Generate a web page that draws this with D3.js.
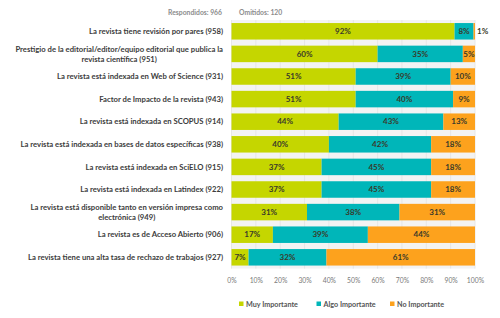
<!DOCTYPE html>
<html>
<head>
<meta charset="utf-8">
<script src="https://cdn.jsdelivr.net/npm/d3@7"></script>
<style>
  body { margin: 0; background: #fff; }
  svg { font-family: Lato, "Open Sans", sans-serif; }
</style>
</head>
<body>
<svg id="chart" width="500" height="318"></svg>
<script>
const categories = [
    "La revista tiene revisión por pares (958)",
    "Prestigio de la editorial/editor/equipo editorial que publica la|revista científica (951)",
    "La revista está indexada en Web of Science (931)",
    "Factor de Impacto de la revista (943)",
    "La revista está indexada en SCOPUS (914)",
    "La revista está indexada en bases de datos específicas (938)",
    "La revista está indexada en SciELO (915)",
    "La revista está indexada en Latindex (922)",
    "La revista está disponible tanto en versión impresa como|electrónica (949)",
    "La revista es de Acceso Abierto (906)",
    "La revista tiene una alta tasa de rechazo de trabajos (927)"
];
const muyImportante = [91.6, 60, 51, 51, 44, 40, 37, 37, 31, 17, 7];
const algoImportante = [7.8, 35, 39, 40, 43, 42, 45, 45, 38, 39, 32];
const noImportante = [0.6, 5, 10, 9, 13, 18, 18, 18, 31, 44, 61];
const seriesNames = ["Muy Importante", "Algo Importante", "No Importante"];
const seriesColors = ["#c5d600", "#00b6b9", "#fda21d"];
const xTicks = [0, 10, 20, 30, 40, 50, 60, 70, 80, 90, 100];
const respondidos = 966;
const omitidos = 120;

const svg = d3.select("#chart");
const margin = {top: 20, right: 25, bottom: 50, left: 231.5};
const width = 500, height = 318;

const rows = categories.map((c, i) => ({
    label: c,
    values: [muyImportante[i], algoImportante[i], noImportante[i]]
}));

const x = d3.scaleLinear()
    .domain([0, 100])
    .range([margin.left, width - margin.right]);

const y = d3.scaleBand()
    .domain(d3.range(categories.length))
    .range([margin.top, margin.top + 22.6 * categories.length])
    .paddingInner(0.27)
    .paddingOuter(0.135);

// plot background and gridlines
svg.append("rect")
    .attr("x", x(0))
    .attr("y", y.range()[0])
    .attr("width", x(100) - x(0))
    .attr("height", y.range()[1] - y.range()[0])
    .attr("fill", "#f3f3f3");

svg.append("g")
    .selectAll("line")
    .data(xTicks)
    .join("line")
    .attr("x1", d => x(d))
    .attr("x2", d => x(d))
    .attr("y1", y.range()[0])
    .attr("y2", y.range()[1])
    .attr("stroke", "#e2e2e2")
    .attr("stroke-width", 0.8);

// header
svg.append("text")
    .attr("x", 222)
    .attr("y", 15)
    .attr("text-anchor", "end")
    .attr("font-size", 6.8)
    .attr("font-weight", "bold")
    .attr("fill", "#8c8c8c")
    .text(`Respondidos: ${respondidos}`);

svg.append("text")
    .attr("x", 239)
    .attr("y", 15)
    .attr("font-size", 6.8)
    .attr("font-weight", "bold")
    .attr("fill", "#8c8c8c")
    .text(`Omitidos: ${omitidos}`);

// stacked bars
const fmt = d3.format(".0f");
const rowG = svg.append("g")
    .selectAll("g")
    .data(rows)
    .join("g")
    .attr("transform", (d, i) => `translate(0,${y(i)})`);

rowG.each(function(d) {
    const g = d3.select(this);
    let acc = 0;
    d.values.forEach((v, k) => {
        const x0 = acc;
        acc += v;
        g.append("rect")
            .attr("x", x(x0))
            .attr("y", 0)
            .attr("width", x(acc) - x(x0))
            .attr("height", y.bandwidth())
            .attr("fill", seriesColors[k]);
        const inside = v >= 3;
        g.append("text")
            .attr("x", inside ? x(x0 + v / 2) : x(acc) + 2)
            .attr("y", y.bandwidth() / 2)
            .attr("dy", "0.35em")
            .attr("text-anchor", inside ? "middle" : "start")
            .attr("font-size", 8)
            .attr("font-weight", "bold")
            .attr("fill", "#3a3a2a")
            .text(fmt(v) + "%");
    });
});

// category labels
const labelG = svg.append("g");
rows.forEach((d, i) => {
    const lines = d.label.split("|");
    const cy = y(i) + y.bandwidth() / 2;
    const t = labelG.append("text")
        .attr("x", 223)
        .attr("y", cy - (lines.length - 1) * 5)
        .attr("text-anchor", lines.length > 1 ? "middle" : "end")
        .attr("font-size", 7.7)
        .attr("font-weight", "bold")
        .attr("fill", "#3c3c3c");
    lines.forEach((ln, j) => {
        t.append("tspan")
            .attr("x", 223)
            .attr("dy", j === 0 ? "0.35em" : 10)
            .text(ln);
    });
});

// center multi-line labels under the first line's right-aligned block
labelG.selectAll("text").each(function() {
    const t = d3.select(this);
    if (t.attr("text-anchor") !== "middle") return;
    const spans = t.selectAll("tspan").nodes();
    const w = spans[0].getComputedTextLength();
    spans.forEach(s => d3.select(s).attr("x", 223 - w / 2));
});

// x axis
const xAxis = d3.axisBottom(x)
    .tickValues(xTicks)
    .tickFormat(d => d + "%")
    .tickSize(0)
    .tickPadding(0);

svg.append("g")
    .attr("transform", `translate(0,${y.range()[1] + 10})`)
    .call(xAxis)
    .call(g => g.select(".domain").remove())
    .selectAll("text")
    .attr("font-family", "Lato, sans-serif")
    .attr("font-size", 6.8)
    .attr("fill", "#7a7a7a");

// legend
const legendX = [239, 316.5, 390];
const legend = svg.append("g")
    .selectAll("g")
    .data(seriesNames)
    .join("g")
    .attr("transform", (d, i) => `translate(${legendX[i]},304)`);

legend.append("rect")
    .attr("x", 0)
    .attr("y", -2.5)
    .attr("width", 4.5)
    .attr("height", 4.5)
    .attr("fill", (d, i) => seriesColors[i]);

legend.append("text")
    .attr("x", 7)
    .attr("y", 0)
    .attr("dy", "0.35em")
    .attr("font-size", 7.2)
    .attr("font-weight", "bold")
    .attr("fill", "#555")
    .text(d => d);
</script>
</body>
</html>
